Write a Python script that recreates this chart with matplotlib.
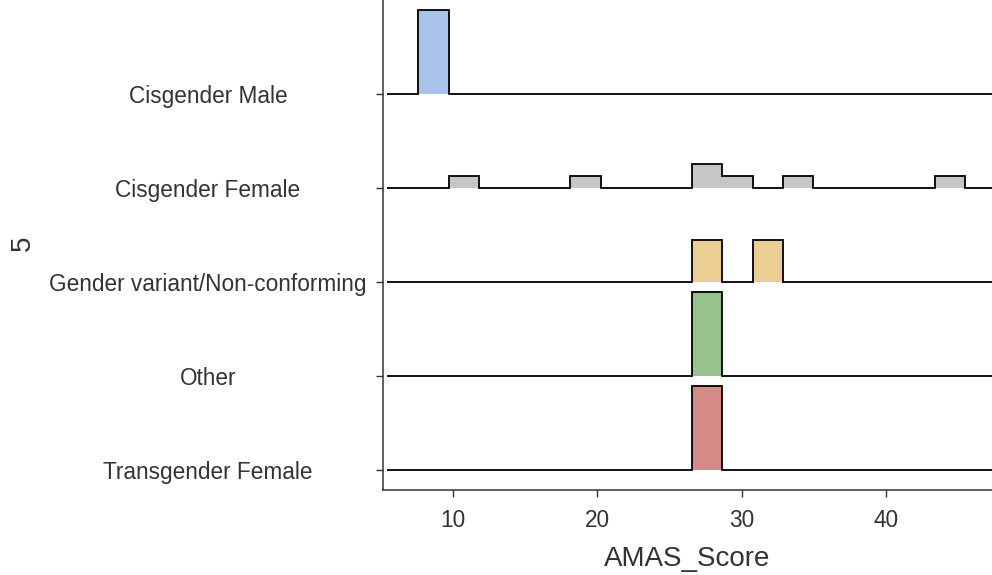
import numpy as np
import matplotlib
matplotlib.use("Agg")
import matplotlib.pyplot as plt

plt.rcParams['font.family'] = ['Liberation Sans', 'DejaVu Sans']

# groups from top to bottom
groups = ["Cisgender Male", "Cisgender Female", "Gender variant/Non-conforming",
          "Other", "Transgender Female"]
fills = ["#a9c3ec", "#c6c6c6", "#ebce94", "#97c28e", "#d68a87"]

# AMAS scores per group
cis_male = [8.5]
cis_female = [10.5, 19, 27.5, 27.5, 29.5, 34, 44.5]
gender_variant = [27.5, 31.5]
other = [27.5]
trans_female = [27.5]
scores = [cis_male, cis_female, gender_variant, other, trans_female]

bin_start = 7.6
bin_width = 2.105
n_bins = 18

edges = bin_start + bin_width * np.arange(n_bins + 1)
line_lo, line_hi = 5.4, 48.0
height_scale = 0.894 * bin_width  # tallest bar (density 1/width) -> 0.894 rows

fig = plt.figure(figsize=(9.92, 5.75), dpi=100)
ax = fig.add_axes([383 / 992, 1 - 490 / 575, 1 - 383 / 992, 490 / 575])

n = len(groups)
for i, (name, vals, col) in enumerate(zip(groups, scores, fills)):
    base = n - i
    counts, _ = np.histogram(vals, bins=edges)
    h = counts / (len(vals) * bin_width) * height_scale
    ax.stairs(base + h, edges, baseline=base, fill=True, facecolor=col,
              edgecolor="none", zorder=2 + i)
    full_edges = np.concatenate([[line_lo], edges, [line_hi]])
    full_vals = np.concatenate([[base], base + h, [base]])
    ax.stairs(full_vals, full_edges, baseline=None, color="black",
              linewidth=1.3, zorder=2.5 + i)

ax.set_xlim(5.15, 47.35)
ax.set_ylim(1 - 20 / 94, 6.0)
ax.set_xticks([10, 20, 30, 40])
ax.set_yticks(range(n, 0, -1))
ax.set_yticklabels(groups)
ax.tick_params(axis="both", labelsize=16.3, colors="#333333", length=5,
               width=1)
ax.tick_params(axis="x", pad=9)
# centred category labels, centre at ~208 px
ax.tick_params(axis="y", pad=(383 - 5 - 210) * 0.72)
for lab in ax.get_yticklabels():
    lab.set_horizontalalignment("center")
    lab.set_verticalalignment("center_baseline")
for s in ["top", "right"]:
    ax.spines[s].set_visible(False)
for s in ["left", "bottom"]:
    ax.spines[s].set_linewidth(1.1)
    ax.spines[s].set_color("#333333")

ax.set_xlabel("AMAS_Score", fontsize=20, color="#333333", labelpad=10)
ax.set_ylabel("5", fontsize=20, color="#333333")
ax.yaxis.set_label_coords((36 - 383) / 609, 0.5 - (243 - 245) / 490)

fig.savefig("out.png", dpi=100)
